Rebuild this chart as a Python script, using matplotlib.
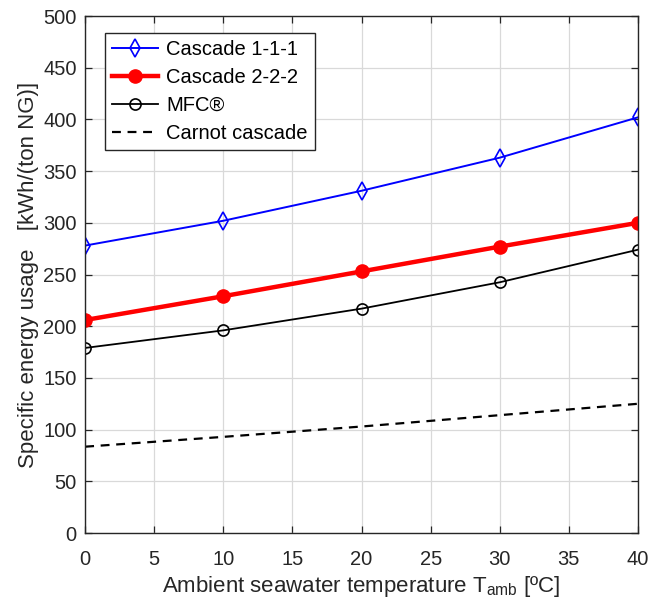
import matplotlib
matplotlib.use("Agg")
import matplotlib.pyplot as plt

plt.rcParams['font.family'] = ['Liberation Sans', 'DejaVu Sans']

# data
t_amb = [0, 10, 20, 30, 40]
cascade_111 = [278, 302, 331, 363, 402]
cascade_222 = [206, 229, 253, 277, 300]
mfc = [179, 196, 217, 242.5, 274]
carnot = [83.5, 93, 103, 114, 125]

fig = plt.figure(figsize=(6.5, 6.04), dpi=100)
ax = fig.add_axes([0.131, 0.1175, 0.8505, 0.856])

ax.plot(t_amb, cascade_111, color='#0000ff', lw=1.4, marker='d', ms=9,
        mfc='none', mec='#0000ff', mew=1.2, label='Cascade 1-1-1')
ax.plot(t_amb, cascade_222, color='#ff0000', lw=3.2, marker='o', ms=9.5,
        mfc='#ff0000', mec='#ff0000', label='Cascade 2-2-2')
ax.plot(t_amb, mfc, color='black', lw=1.3, marker='o', ms=8,
        mfc='none', mec='black', mew=1.2, label='MFC®')
ax.plot(t_amb, carnot, color='black', lw=1.6, ls=(0, (4, 3)), label='Carnot cascade')

ax.set_xlim(0, 40)
ax.set_ylim(0, 500)
ax.set_xticks(range(0, 41, 5))
ax.set_yticks(range(0, 501, 50))
ax.grid(True, color='#d9d9d9', lw=0.9)
ax.set_axisbelow(True)
ax.tick_params(direction='in', top=True, right=True, labelsize=14.5, colors='#262626',
               length=5, width=0.9)
ax.tick_params(axis='x', pad=12)
ax.tick_params(axis='y', pad=6)
for s in ax.spines.values():
    s.set_color('#262626')
    s.set_linewidth(1.0)

ax.set_xlabel('Ambient seawater temperature T$_{\\mathregular{amb}}$ [ºC]', fontsize=16,
              color='#262626', labelpad=4)
ax.set_ylabel('Specific energy usage   [kWh/(ton NG)]', fontsize=16, color='#262626',
              labelpad=3)

leg = ax.legend(loc='upper left', bbox_to_anchor=(0.036, 0.967), fontsize=14.5,
                fancybox=False, framealpha=1, edgecolor='#262626',
                borderaxespad=0, handlelength=2.3, labelspacing=0.45,
                handletextpad=0.4, borderpad=0.35)
leg.get_frame().set_linewidth(1.0)

fig.savefig('out.png', dpi=100)
